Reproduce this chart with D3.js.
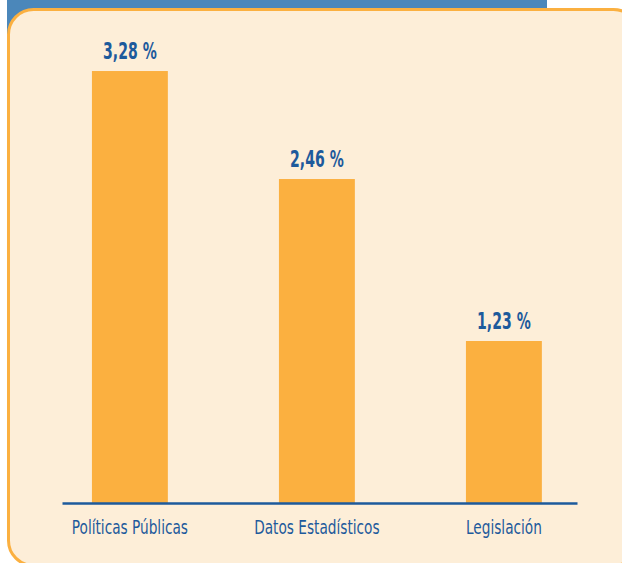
<!DOCTYPE html>
<html>
<head>
<meta charset="utf-8">
<script src="https://cdn.jsdelivr.net/npm/d3@7"></script>
<style>
    html, body { margin: 0; padding: 0; background: #ffffff; }
    svg { display: block; }
</style>
</head>
<body>
<div id="chart"></div>
<script>
// data
let categories = ["Políticas Públicas", "Datos Estadísticos", "Legislación"];
let values = [3.28, 2.46, 1.23];
let valueLabels = ["3,28 %", "2,46 %", "1,23 %"];

let WIDTH = 622;
let HEIGHT = 563;
let BLUE = "#1d5a9c";
let BAR = "#fbb040";
let FONT = "'DejaVu Sans Condensed', 'Liberation Sans Narrow', sans-serif";

// squeeze condensed text a bit more, the original face is narrower
function narrow(sel, factor){
    sel.each(function(){
        let w = this.getComputedTextLength();
        d3.select(this)
            .attr("textLength", w * factor)
            .attr("lengthAdjust", "spacingAndGlyphs");
    });
}

let svg = d3.select("#chart")
    .append("svg")
    .attr("width", WIDTH)
    .attr("height", HEIGHT);

// header strip + rounded panel
svg.append("rect")
    .attr("x", 7).attr("y", 0)
    .attr("width", 540).attr("height", 40)
    .attr("fill", "#4b87ba");

svg.append("rect")
    .attr("x", 8.5).attr("y", 9.5)
    .attr("width", 630).attr("height", 556)
    .attr("rx", 25).attr("ry", 25)
    .attr("fill", "#fdeed8")
    .attr("stroke", BAR)
    .attr("stroke-width", 3);

let x = d3.scaleBand()
    .domain(categories)
    .range([62, 577])
    .paddingInner(0.594)
    .paddingOuter(0.174)
    .align(0.46);

let y = d3.scaleLinear()
    .domain([0, 3.5])
    .range([503, 503 - 3.5 * 131.7]);

let g = svg.append("g");

g.selectAll(".bar")
    .data(values)
    .enter()
    .append("rect")
    .attr("class", "bar")
    .attr("x", function(d, i){ return x(categories[i]); })
    .attr("width", x.bandwidth())
    .attr("y", function(d){ return y(d); })
    .attr("height", function(d){ return y(0) - y(d); })
    .attr("fill", BAR);

g.selectAll(".val")
    .data(values)
    .enter()
    .append("text")
    .attr("class", "val")
    .attr("x", function(d, i){ return x(categories[i]) + x.bandwidth() / 2; })
    .attr("y", function(d){ return y(d) - 12; })
    .attr("text-anchor", "middle")
    .style("font-family", FONT)
    .style("font-weight", "bold")
    .style("font-size", "23px")
    .attr("fill", BLUE)
    .text(function(d, i){ return valueLabels[i]; })
    .call(narrow, 0.68);

let axis = g.append("g")
    .attr("transform", "translate(0," + y(0) + ")")
    .call(d3.axisBottom(x).tickSize(0).tickSizeOuter(0));

axis.select(".domain")
    .attr("stroke", BLUE)
    .attr("stroke-width", 2.5);

axis.selectAll("text")
    .attr("y", 17)
    .attr("dy", "0.71em")
    .attr("fill", BLUE)
    .style("font-family", FONT)
    .style("font-size", "20px")
    .call(narrow, 0.76);
</script>
</body>
</html>
